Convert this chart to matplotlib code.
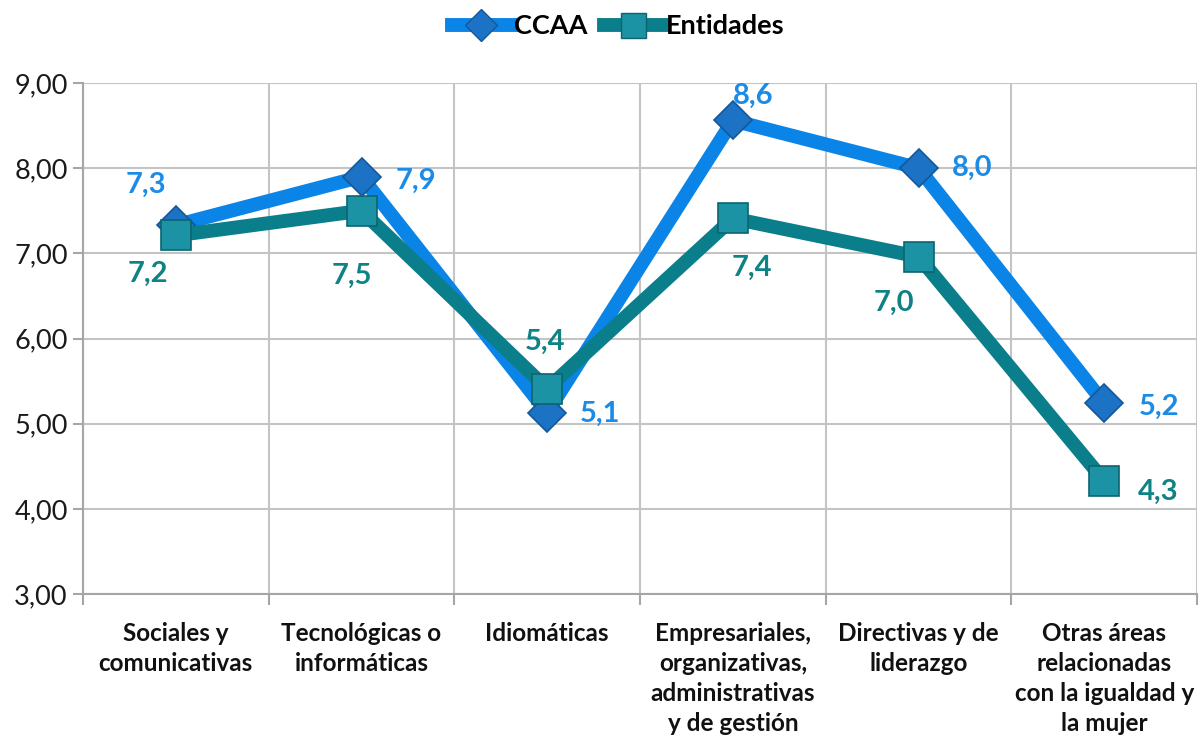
import matplotlib
matplotlib.use("Agg")
import matplotlib.pyplot as plt
from matplotlib.lines import Line2D

categories = ["Sociales y\ncomunicativas", "Tecnológicas o\ninformáticas", "Idiomáticas",
              "Empresariales,\norganizativas,\nadministrativas\ny de gestión",
              "Directivas y de\nliderazgo", "Otras áreas\nrelacionadas\ncon la igualdad y\nla mujer"]
ccaa = [7.33, 7.90, 5.13, 8.56, 8.00, 5.24]
entidades = [7.21, 7.50, 5.41, 7.41, 6.96, 4.33]
yticks = [3, 4, 5, 6, 7, 8, 9]

FONT = ["Lato", "DejaVu Sans"]
plt.rcParams['font.family'] = FONT

C_LINE = "#0A84E6"
C_MK = "#1C72C4"
C_MKE = "#14579A"
C_LAB1 = "#1A8CE8"
T_LINE = "#0B7E8C"
T_MK = "#1B93A4"
T_MKE = "#0D6470"
T_LAB = "#0F8285"

fig = plt.figure(figsize=(12, 7.42), dpi=100)
ax = fig.add_axes([83/1200, 1-594/742, (1197-83)/1200, (594-83)/742])

x = list(range(len(categories)))
ax.plot(x, ccaa, color=C_LINE, lw=10, marker="D", ms=19, mfc=C_MK, mec=C_MKE, mew=1.2,
        solid_joinstyle="round", zorder=3)
ax.plot(x, entidades, color=T_LINE, lw=10, marker="s", ms=21, mfc=T_MK, mec=T_MKE, mew=1.2,
        solid_joinstyle="round", zorder=4)

c_off = [(-30, 40), (54, -4), (53, -1), (20, 25), (54, 0), (55, -4)]
e_off = [(-28, -38), (-10, -65), (-2, 47), (19, -49), (-25, -46), (54, -11)]
for i, v in enumerate(ccaa):
    ax.annotate(f"{v:.1f}".replace(".", ","), (i, v), xytext=c_off[i], textcoords="offset pixels",
                ha="center", va="center", fontsize=21, fontweight="bold", color=C_LAB1, zorder=6)
for i, v in enumerate(entidades):
    ax.annotate(f"{v:.1f}".replace(".", ","), (i, v), xytext=e_off[i], textcoords="offset pixels",
                ha="center", va="center", fontsize=21, fontweight="bold", color=T_LAB, zorder=6)

ax.set_xlim(-0.5, len(categories) - 0.5)
ax.set_ylim(3, 9)
ax.set_yticks(yticks)
ax.set_yticklabels([f"{t:.2f}".replace(".", ",") for t in yticks], fontsize=19.5, color="#1a1a1a")
ax.set_xticks(x)
ax.set_xticklabels(categories, fontsize=17.5, fontweight="bold", color="#111111", linespacing=1.38,
                   va="top")
ax.set_xticks([i - 0.5 for i in range(len(categories) + 1)], minor=True)
ax.tick_params(axis="x", which="major", length=0, pad=20)
ax.tick_params(axis="x", which="minor", length=8, width=1.5, color="#A6A6A6", direction="out")
ax.tick_params(axis="y", length=7, width=1.5, color="#A6A6A6", pad=4)

ax.grid(True, axis="y", color="#C4C4C4", lw=1.5)
ax.grid(True, axis="x", which="minor", color="#C4C4C4", lw=1.5)
ax.set_axisbelow(True)
for s in ["top", "right"]:
    ax.spines[s].set_visible(False)
for s in ["left", "bottom"]:
    ax.spines[s].set_color("#A6A6A6")
    ax.spines[s].set_linewidth(1.5)

handles = [Line2D([], [], color=C_LINE, lw=10, marker="D", ms=16, mfc=C_MK, mec=C_MKE),
           Line2D([], [], color=T_LINE, lw=10, marker="s", ms=18, mfc=T_MK, mec=T_MKE)]
fig.legend(handles, ["CCAA", "Entidades"], loc="center", bbox_to_anchor=(0.515, 1 - 26/742),
           ncol=2, frameon=False, prop={"family": FONT, "weight": "bold", "size": 19.5},
           handlelength=2.2, handletextpad=0.1, columnspacing=0.6)

fig.savefig("out.png", dpi=100)
